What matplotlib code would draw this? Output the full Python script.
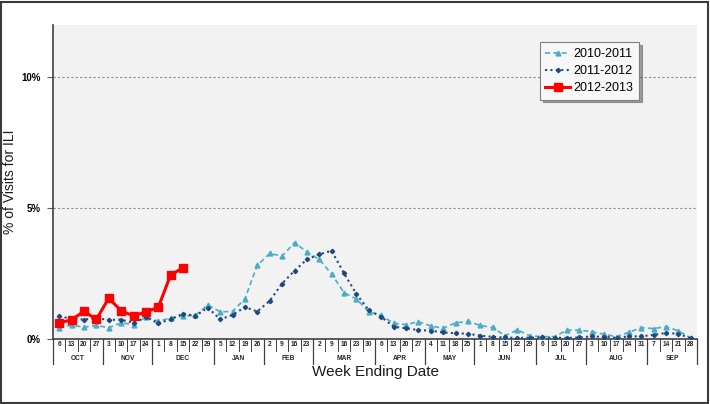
import matplotlib
matplotlib.use("Agg")
import matplotlib.pyplot as plt
from matplotlib.patches import Rectangle
import matplotlib.transforms as mtransforms

plt.rcParams['font.family'] = ['Liberation Sans', 'DejaVu Sans']

months = ['OCT', 'NOV', 'DEC', 'JAN', 'FEB', 'MAR', 'APR', 'MAY', 'JUN', 'JUL', 'AUG', 'SEP']
week_days = [
    [6, 13, 20, 27], [3, 10, 17, 24], [1, 8, 15, 22, 29], [5, 12, 19, 26],
    [2, 9, 16, 23], [2, 9, 16, 23, 30], [6, 13, 20, 27], [4, 11, 18, 25],
    [1, 8, 15, 22, 29], [6, 13, 20, 27], [3, 10, 17, 24, 31], [7, 14, 21, 28],
]

s2010 = [0.42, 0.53, 0.45, 0.52, 0.43, 0.62, 0.55, 0.84, 0.68, 0.80, 0.88, 0.90,
         1.30, 1.04, 1.05, 1.54, 2.82, 3.27, 3.17, 3.68, 3.33, 3.04, 2.48, 1.77,
         1.53, 1.04, 0.90, 0.60, 0.55, 0.66, 0.50, 0.41, 0.62, 0.67, 0.52, 0.44,
         0.12, 0.35, 0.12, 0.09, 0.09, 0.34, 0.34, 0.28, 0.18, 0.09, 0.26, 0.43,
         0.40, 0.47, 0.31, 0.04]
s2011 = [0.86, 0.78, 0.74, 0.80, 0.73, 0.74, 0.62, 0.84, 0.60, 0.75, 0.97, 0.88,
         1.20, 0.75, 0.92, 1.22, 1.05, 1.46, 2.12, 2.61, 3.04, 3.24, 3.37, 2.51,
         1.72, 1.10, 0.85, 0.47, 0.41, 0.34, 0.32, 0.25, 0.22, 0.20, 0.13, 0.08,
         0.06, 0.04, 0.05, 0.06, 0.05, 0.04, 0.06, 0.10, 0.08, 0.05, 0.10, 0.10,
         0.16, 0.23, 0.20, 0.02]
s2012 = [0.62, 0.73, 1.06, 0.75, 1.56, 1.08, 0.88, 1.03, 1.21, 2.45, 2.72]

y_ticks = [0, 5, 10]
y_tick_labels = ['0%', '5%', '10%']

fig = plt.figure(figsize=(7.10, 4.04), dpi=100)
ax = fig.add_axes([53/710, 65/404, 644/710, 314/404])
ax.set_facecolor('#f2f2f2')

x10 = list(range(len(s2010)))
x11 = list(range(len(s2011)))
x12 = list(range(len(s2012)))

ax.plot(x10, s2010, color='#4bacc6', linestyle=(0, (3, 2)), linewidth=1.2,
        marker='^', markersize=3.5, label='2010-2011', zorder=3)
ax.plot(x11, s2011, color='#1f497d', linestyle=(0, (1, 1.6)), linewidth=1.5,
        marker='D', markersize=2.2, label='2011-2012', zorder=3)
ax.plot(x12, s2012, color='#ff0000', linestyle='-', linewidth=2.2,
        marker='s', markersize=6, label='2012-2013', zorder=4)

n = sum(len(w) for w in week_days)
ax.set_xlim(-0.5, n - 0.5)
ax.set_ylim(0, 12)

ax.set_yticks(y_ticks)
ax.set_yticklabels(y_tick_labels, fontsize=7, fontweight='bold')
ax.tick_params(axis='y', length=4, width=0.8, color='#595959', pad=5)
for yv in y_ticks[1:]:
    ax.axhline(yv, color='#8c8c8c', linestyle=(0, (2, 2)), linewidth=0.8, zorder=1)

for sp in ['top', 'right']:
    ax.spines[sp].set_visible(False)
ax.spines['left'].set_color('#404040')
ax.spines['bottom'].set_color('#404040')
ax.spines['left'].set_linewidth(1.2)
ax.spines['bottom'].set_linewidth(1.2)

# x axis: week labels and separators
ax.set_xticks([])
trans = mtransforms.blended_transform_factory(ax.transData, ax.transAxes)
axh = 314.0
idx = 0
for m, days in zip(months, week_days):
    start = idx
    for d in days:
        ax.text(idx, -6/axh, str(d), transform=trans, ha='center', va='center',
                fontsize=4.8, fontweight='bold', color='#262626', clip_on=False)
        if idx != start:
            ax.plot([idx - 0.5, idx - 0.5], [0, -12/axh], transform=trans,
                    color='#404040', linewidth=0.7, clip_on=False)
        idx += 1
    ax.plot([start - 0.5, start - 0.5], [0, -25/axh], transform=trans,
            color='#404040', linewidth=0.9, clip_on=False)
    ax.text((start + idx - 1) / 2, -19/axh, m, transform=trans, ha='center',
            va='center', fontsize=4.8, fontweight='bold', color='#262626', clip_on=False)
ax.plot([idx - 0.5, idx - 0.5], [0, -25/axh], transform=trans,
        color='#404040', linewidth=0.9, clip_on=False)

ax.set_xlabel('Week Ending Date', fontsize=11, color='#1a1a1a')
ax.xaxis.set_label_coords(0.5, -33/axh)
ax.xaxis.label.set_va('center')
ax.set_ylabel('% of Visits for ILI', fontsize=10, color='#1a1a1a')
ax.yaxis.set_label_coords(-36/644, 0.5)

leg = ax.legend(loc='upper left', bbox_to_anchor=(0.756, 0.945), fontsize=9,
                frameon=True, fancybox=False, shadow=True, handlelength=2.0,
                borderpad=0.45, labelspacing=0.4, handletextpad=0.25,
                borderaxespad=0.0)
leg.get_frame().set_edgecolor('#808080')
leg.get_frame().set_facecolor('#f7f7f7')
leg.get_frame().set_linewidth(0.8)

fig.patches.append(Rectangle((0.002, 0.003), 0.995, 0.993, transform=fig.transFigure,
                             fill=False, edgecolor='#3a3a3a', linewidth=1.5))

fig.savefig('out.png', dpi=100)
